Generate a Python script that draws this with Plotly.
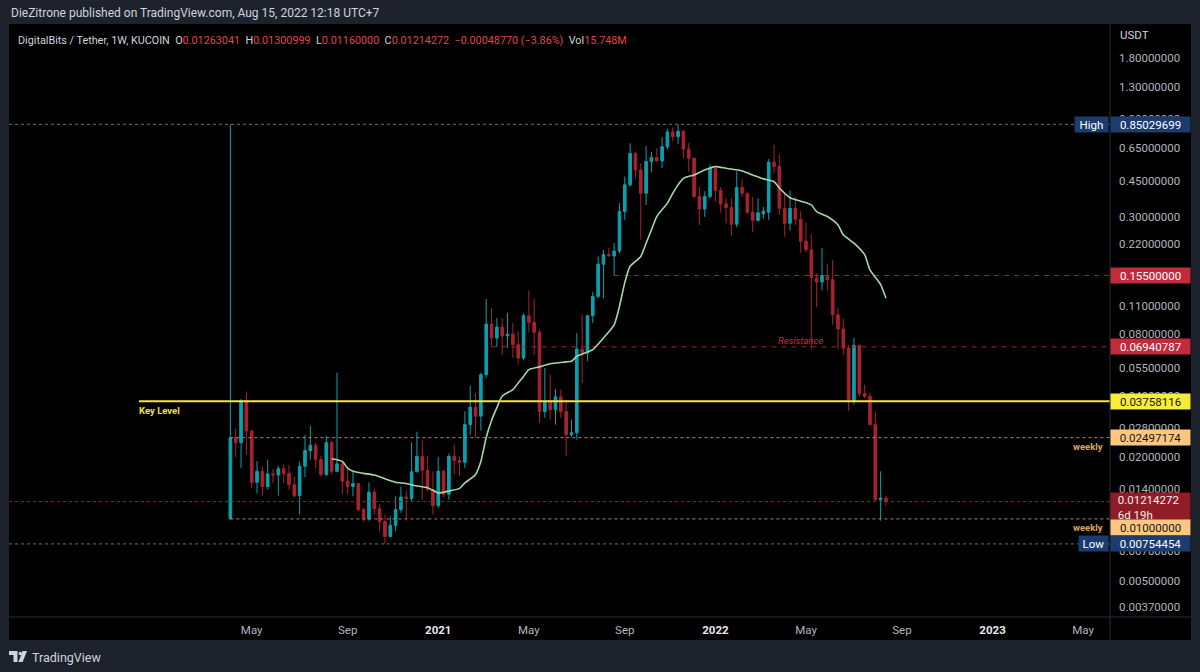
import math
import pandas as pd
import plotly.graph_objects as go

# ---------------- data ----------------
first_week = "2020-04-06"
n_weeks = 124

opens = [0.0100, 0.0250, 0.0236, 0.0378, 0.0269, 0.0151, 0.0171, 0.0144, 0.0166, 0.0164,
         0.0176, 0.0167, 0.0147, 0.0130, 0.0181, 0.0216, 0.0229, 0.0195, 0.0165, 0.0236,
         0.0171, 0.0186, 0.0153, 0.0144, 0.0149, 0.0111, 0.0100, 0.0135, 0.0112, 0.0097,
         0.0082, 0.0093, 0.0111, 0.0128, 0.0126, 0.0170, 0.0202, 0.0173, 0.0139, 0.0116,
         0.0171, 0.0132, 0.0202, 0.0193, 0.0189, 0.0289, 0.0352, 0.0318, 0.0507, 0.0897,
         0.0767, 0.0867, 0.0785, 0.0800, 0.0711, 0.0612, 0.0985, 0.0913, 0.0817, 0.0335,
         0.0375, 0.0342, 0.0395, 0.0335, 0.0258, 0.0264, 0.0677, 0.0647, 0.0985, 0.1225,
         0.176, 0.196, 0.193, 0.204, 0.318, 0.430, 0.613, 0.509, 0.391, 0.559,
         0.585, 0.563, 0.660, 0.780, 0.740, 0.785, 0.643, 0.580, 0.377, 0.328,
         0.377, 0.518, 0.403, 0.347, 0.333, 0.276, 0.417, 0.391, 0.316, 0.288,
         0.310, 0.316, 0.555, 0.530, 0.330, 0.279, 0.330, 0.292, 0.228, 0.207,
         0.151, 0.144, 0.153, 0.148, 0.0996, 0.0848, 0.0685, 0.0375, 0.0705, 0.0410,
         0.0398, 0.0289, 0.0124, 0.01263041]
highs = [0.85029699, 0.0277, 0.0386, 0.0420, 0.0272, 0.0192, 0.0180, 0.0195, 0.0176, 0.0182,
         0.0184, 0.0184, 0.0161, 0.0191, 0.0258, 0.0285, 0.0236, 0.0204, 0.0255, 0.0240,
         0.0519, 0.0191, 0.0176, 0.0170, 0.0150, 0.0113, 0.0151, 0.0140, 0.0118, 0.0105,
         0.0103, 0.0129, 0.0144, 0.0137, 0.0237, 0.0267, 0.0242, 0.0204, 0.0171, 0.0201,
         0.0174, 0.0209, 0.0231, 0.0202, 0.0336, 0.0448, 0.0412, 0.0519, 0.119, 0.1075,
         0.096, 0.096, 0.102, 0.0907, 0.0827, 0.101, 0.131, 0.119, 0.0842, 0.0547,
         0.0507, 0.0432, 0.0429, 0.0383, 0.0306, 0.0810, 0.0996, 0.0996, 0.129, 0.192,
         0.207, 0.211, 0.224, 0.350, 0.472, 0.687, 0.624, 0.548, 0.665, 0.624,
         0.650, 0.736, 0.810, 0.820, 0.85029699, 0.800, 0.690, 0.585, 0.420, 0.400,
         0.540, 0.520, 0.420, 0.370, 0.370, 0.500, 0.460, 0.392, 0.375, 0.370,
         0.336, 0.575, 0.674, 0.605, 0.390, 0.403, 0.375, 0.320, 0.282, 0.245,
         0.159, 0.211, 0.177, 0.184, 0.1075, 0.095, 0.0711, 0.0767, 0.0711, 0.0453,
         0.0415, 0.0335, 0.0171, 0.01300999]
lows = [0.0100, 0.0201, 0.0177, 0.0206, 0.0141, 0.0133, 0.0130, 0.0139, 0.0150, 0.0130,
        0.0150, 0.0139, 0.0127, 0.0105, 0.0160, 0.0195, 0.0177, 0.0161, 0.0162, 0.0165,
        0.0169, 0.0132, 0.0132, 0.0129, 0.0109, 0.0097, 0.0098, 0.0105, 0.0087, 0.00754454,
        0.0081, 0.0087, 0.0107, 0.0098, 0.0122, 0.0169, 0.0124, 0.0137, 0.0105, 0.0113,
        0.0127, 0.0124, 0.0165, 0.0162, 0.0177, 0.0258, 0.0250, 0.0270, 0.0490, 0.0693,
        0.0693, 0.0635, 0.0686, 0.0612, 0.0568, 0.0600, 0.0817, 0.0635, 0.0295, 0.0312,
        0.0306, 0.0289, 0.0312, 0.0202, 0.0252, 0.0244, 0.0462, 0.0590, 0.0907, 0.120,
        0.120, 0.192, 0.155, 0.199, 0.290, 0.422, 0.463, 0.232, 0.343, 0.495,
        0.559, 0.520, 0.640, 0.700, 0.680, 0.580, 0.500, 0.370, 0.274, 0.300,
        0.370, 0.357, 0.314, 0.279, 0.242, 0.267, 0.375, 0.310, 0.252, 0.285,
        0.294, 0.290, 0.490, 0.307, 0.240, 0.257, 0.274, 0.200, 0.200, 0.0677,
        0.1085, 0.131, 0.131, 0.089, 0.0677, 0.0635, 0.0338, 0.0362, 0.0395, 0.0390,
        0.0289, 0.0123, 0.0098, 0.01160000]
closes = [0.02497174, 0.0236, 0.0378, 0.0269, 0.0151, 0.0171, 0.0144, 0.0166, 0.0164, 0.0176,
          0.0167, 0.0147, 0.0130, 0.0181, 0.0216, 0.0229, 0.0195, 0.0165, 0.0236, 0.0171,
          0.0186, 0.0153, 0.0144, 0.0149, 0.0111, 0.0100, 0.0135, 0.0112, 0.0097, 0.0082,
          0.0093, 0.0111, 0.0128, 0.0126, 0.0170, 0.0202, 0.0173, 0.0139, 0.0116, 0.0171,
          0.0132, 0.0202, 0.0193, 0.0189, 0.0289, 0.0352, 0.0318, 0.0507, 0.0897, 0.0767,
          0.0867, 0.0785, 0.0800, 0.0711, 0.0612, 0.0985, 0.0913, 0.0817, 0.0335, 0.0375,
          0.0342, 0.0395, 0.0335, 0.0258, 0.0264, 0.0677, 0.0647, 0.0985, 0.1225, 0.176,
          0.196, 0.193, 0.204, 0.318, 0.430, 0.613, 0.509, 0.391, 0.559, 0.585,
          0.563, 0.660, 0.780, 0.740, 0.785, 0.643, 0.580, 0.377, 0.328, 0.377,
          0.518, 0.403, 0.347, 0.333, 0.276, 0.417, 0.391, 0.316, 0.288, 0.314,
          0.320, 0.555, 0.530, 0.330, 0.279, 0.330, 0.292, 0.228, 0.207, 0.151,
          0.144, 0.155, 0.148, 0.0996, 0.0848, 0.0685, 0.0375, 0.0705, 0.0410, 0.0398,
          0.0289, 0.0124, 0.01263041, 0.01214272]

# 20-week moving average (candle number, value)
ma_candle = [20, 22, 23, 24, 26, 28, 30, 32, 34, 36, 38, 39, 40, 42, 44, 45, 47, 48, 49, 50,
             51, 52, 54, 55, 56, 57, 59, 61, 64, 65, 66, 69, 71, 73, 74, 75, 76, 78, 79, 80,
             81, 83, 84, 85, 86, 88, 90, 92, 94, 97, 99, 101, 103, 104, 106, 108, 110, 111, 113, 115,
             116, 118, 120, 121, 123, 124]
ma_value = [0.0197, 0.0191, 0.0177, 0.0171, 0.0167, 0.0164, 0.0157, 0.0151, 0.0149, 0.0145,
            0.0142, 0.0138, 0.0134, 0.0137, 0.0141, 0.0150, 0.0165, 0.0191, 0.0250, 0.0303,
            0.0350, 0.0398, 0.0429, 0.0462, 0.0497, 0.0537, 0.0554, 0.0574, 0.0586, 0.0590,
            0.0624, 0.0672, 0.0767, 0.0890, 0.1095, 0.143, 0.172, 0.192, 0.223, 0.259,
            0.301, 0.350, 0.391, 0.430, 0.463, 0.481, 0.509, 0.528, 0.518, 0.503,
            0.481, 0.460, 0.446, 0.415, 0.372, 0.358, 0.343, 0.318, 0.301, 0.274,
            0.245, 0.223, 0.196, 0.165, 0.140, 0.120]

# horizontal levels
high_level = 0.85029699
low_level = 0.00754454
last_price = 0.01214272
key_level = 0.03758116
weekly_upper = 0.02497174
weekly_lower = 0.01000000
resistance = 0.06940787
upper_res = 0.15500000

# axis ticks (ticks fully hidden behind price labels in the reference are left out)
y_ticks = [1.8, 1.3, 0.9, 0.65, 0.45, 0.30, 0.22, 0.11, 0.08, 0.055, 0.04,
           0.028, 0.02, 0.014, 0.007, 0.005, 0.0037]
x_tick_dates = ["2020-05-04", "2020-09-07", "2021-01-04", "2021-05-03", "2021-09-06",
                "2022-01-03", "2022-05-02", "2022-09-05", "2023-01-02", "2023-05-01"]
x_tick_text = ["May", "Sep", "2021", "May", "Sep", "2022", "May", "Sep", "2023", "May"]
x_range = ["2019-06-20 06:00", "2023-06-05 06:00"]

# header values
hdr_open, hdr_high, hdr_low, hdr_close = "0.01263041", "0.01300999", "0.01160000", "0.01214272"
hdr_change = "−0.00048770 (−3.86%)"
hdr_vol = "15.748M"

# ---------------- style ----------------
W, H = 1200, 672
OUTER = "#1e222d"
TEAL = "#0c9fae"
RED = "#a8232f"
FONT = "Roboto"
TXT = "#d1d4dc"
AXT = "#b2b5be"
VALRED = "#e3434f"
LBL_BLUE = "#1c3c70"
LBL_RED = "#c32a3b"
LBL_DARKRED = "#901c27"
LBL_YEL = "#f7eb3b"
LBL_ORA = "#fdc77f"

PX_L, PX_R, PX_T, PX_B = 9, 1110, 24, 616.7

dates = pd.date_range(first_week, periods=n_weeks, freq="7D")
ma_dates = [dates[i - 1] for i in ma_candle]
x_end = x_range[1]

fig = go.Figure()

fig.add_trace(go.Candlestick(
    x=dates, open=opens, high=highs, low=lows, close=closes,
    increasing=dict(line=dict(color=TEAL, width=1), fillcolor=TEAL),
    decreasing=dict(line=dict(color=RED, width=1), fillcolor=RED),
    hoverinfo="skip", whiskerwidth=0,
))

def hline(x0, value, color, dash, width=1):
    fig.add_trace(go.Scatter(x=[x0, x_end], y=[value, value], mode="lines",
                             line=dict(color=color, width=width, dash=dash),
                             hoverinfo="skip"))

hline(x_range[0], high_level, "#6c707b", "dot")
hline(x_range[0], low_level, "#6c707b", "dot")
hline(x_range[0], last_price, "#8a2a30", "dot")
hline(dates[0], weekly_upper, "#b8864a", "dot")
hline(dates[0], weekly_lower, "#b8864a", "dot")
hline(dates[49], resistance, "#a3242f", "5px,5px")
hline(dates[72], upper_res, "#a3242f", "5px,5px")
hline("2019-12-08", key_level, "#f2e63a", "solid", 2)

fig.add_trace(go.Scatter(x=ma_dates, y=ma_value, mode="lines",
                         line=dict(color="#a5d6a7", width=1.6, shape="spline", smoothing=0.6),
                         hoverinfo="skip"))

# ---------------- layout ----------------
def px_x(p):
    return p / W

def px_y(p):
    return 1 - p / H

year_col = "#e6e8ee"
tt = [f"<b><span style='color:{year_col}'>{t}</span></b>" if t.isdigit() else t for t in x_tick_text]

fig.update_layout(
    width=W, height=H, margin=dict(l=0, r=0, t=0, b=0),
    paper_bgcolor=OUTER, plot_bgcolor="#000000", showlegend=False,
    font=dict(family=FONT, color=AXT, size=11.5),
    xaxis=dict(type="date", domain=[px_x(PX_L), px_x(PX_R)], range=x_range,
               rangeslider=dict(visible=False), showgrid=False, zeroline=False,
               showline=False, tickvals=x_tick_dates, ticktext=tt, ticks="",
               ticklabelstandoff=5, tickfont=dict(size=11.5, color=AXT, family=FONT),
               fixedrange=True),
    yaxis=dict(type="log", side="right", domain=[px_y(PX_B), px_y(PX_T)],
               range=[-2.4782, 0.4201], showgrid=False, zeroline=False, showline=False,
               tickvals=y_ticks, ticktext=[f"{v:.8f}" for v in y_ticks], ticks="",
               ticklabelstandoff=8, tickfont=dict(size=11.5, color=AXT, family=FONT),
               fixedrange=True),
)

shapes = []
# black chart panel incl. axes
shapes.append(dict(type="rect", xref="paper", yref="paper", x0=px_x(9), x1=px_x(1191),
                   y0=px_y(640), y1=px_y(24), fillcolor="#000000", line=dict(width=0),
                   layer="below"))
# separators
shapes.append(dict(type="line", xref="paper", yref="paper", x0=px_x(1110), x1=px_x(1110),
                   y0=px_y(640), y1=px_y(24), line=dict(color="#2a2e39", width=1), layer="above"))
shapes.append(dict(type="line", xref="paper", yref="paper", x0=px_x(9), x1=px_x(1191),
                   y0=px_y(617), y1=px_y(617), line=dict(color="#2a2e39", width=1), layer="above"))
# TradingView logo mark
shapes.append(dict(type="path", xref="paper", yref="paper",
                   path=(f"M {px_x(9)} {px_y(651)} L {px_x(17.5)} {px_y(651)} L {px_x(17.5)} {px_y(662)} "
                         f"L {px_x(13.5)} {px_y(662)} L {px_x(13.5)} {px_y(655)} L {px_x(9)} {px_y(655)} Z"),
                   fillcolor="#d1d4dc", line=dict(width=0)))
shapes.append(dict(type="circle", xref="paper", yref="paper", x0=px_x(18.6), x1=px_x(22.0),
                   y0=px_y(655.2), y1=px_y(651.8), fillcolor="#d1d4dc", line=dict(width=0)))
shapes.append(dict(type="path", xref="paper", yref="paper",
                   path=(f"M {px_x(22.6)} {px_y(651)} L {px_x(27)} {px_y(651)} L {px_x(22.6)} {px_y(662)} "
                         f"L {px_x(18.4)} {px_y(662)} Z"),
                   fillcolor="#d1d4dc", line=dict(width=0)))
fig.update_layout(shapes=shapes)

ann = []

def axis_label(value, text, bg, fg, yshift=0, height=13, align="center"):
    ann.append(dict(xref="paper", yref="y", x=px_x(1110), y=math.log10(value),
                    xanchor="left", yanchor="middle", yshift=yshift, text=text,
                    showarrow=False, bgcolor=bg, width=77, height=height, align=align,
                    borderpad=1, font=dict(family=FONT, size=11.5, color=fg)))

def side_tag(value, text, bg, fg, x_left, yshift=0):
    ann.append(dict(xref="paper", yref="y", x=px_x(1109), y=math.log10(value),
                    xanchor="right", yanchor="middle", yshift=yshift, text=text,
                    showarrow=False, bgcolor=bg, width=x_left, height=13, align="center",
                    borderpad=1, font=dict(family=FONT, size=11.5, color=fg)))

axis_label(high_level, "0.85029699", LBL_BLUE, "#ffffff")
side_tag(high_level, "High", LBL_BLUE, "#ffffff", 31)
axis_label(upper_res, "0.15500000", LBL_RED, "#ffffff")
axis_label(resistance, "0.06940787", LBL_RED, "#ffffff")
axis_label(key_level, "0.03758116", LBL_YEL, "#131722")
axis_label(weekly_upper, "0.02497174", LBL_ORA, "#131722")
nb = "\u00a0\u00a0"
axis_label(last_price, nb + "0.01214272<br>" + nb + "6d 19h", LBL_DARKRED, "#f0f0f0",
           yshift=-6, height=27, align="left")
axis_label(weekly_lower, "0.01000000", LBL_ORA, "#131722", yshift=-9)
axis_label(low_level, "0.00754454", LBL_BLUE, "#ffffff")
side_tag(low_level, "Low", LBL_BLUE, "#ffffff", 27)

# weekly tags
for lv, ys in ((weekly_upper, -9), (weekly_lower, -9)):
    ann.append(dict(xref="paper", yref="y", x=px_x(1105), y=math.log10(lv), yshift=ys,
                    xanchor="right", yanchor="middle", text="<b>weekly</b>", showarrow=False,
                    font=dict(family=FONT, size=9.5, color="#dca55c")))
# key level / resistance
ann.append(dict(xref="paper", yref="y", x=px_x(137), y=math.log10(key_level), yshift=-9,
                xanchor="left", yanchor="middle", text="<b>Key Level</b>", showarrow=False,
                font=dict(family=FONT, size=9.5, color="#ece03c")))
ann.append(dict(xref="paper", yref="y", x=px_x(776), y=math.log10(resistance), yshift=6,
                xanchor="left", yanchor="middle", text="<i>Resistance</i>", showarrow=False,
                font=dict(family=FONT, size=9.5, color="#d02a3e")))

# USDT
ann.append(dict(xref="paper", yref="paper", x=px_x(1118), y=px_y(35), xanchor="left",
                yanchor="middle", text="USDT", showarrow=False,
                font=dict(family=FONT, size=11.5, color=TXT)))

# header rows
ann.append(dict(xref="paper", yref="paper", x=px_x(9), y=px_y(13), xanchor="left",
                yanchor="middle",
                text="DieZitrone published on TradingView.com, Aug 15, 2022 12:18 UTC+7",
                showarrow=False, font=dict(family=FONT, size=12, color=TXT)))

def red(s):
    return f"<span style='color:{VALRED}'>{s}</span>"

sp = "\u00a0 "
hdr = ("DigitalBits / Tether, 1W, KUCOIN" + sp + "O" + red(hdr_open) + sp + "H" + red(hdr_high)
       + sp + "L" + red(hdr_low) + sp + "C" + red(hdr_close) + sp + red(hdr_change)
       + sp + "Vol" + red(hdr_vol))
ann.append(dict(xref="paper", yref="paper", x=px_x(16), y=px_y(40), xanchor="left",
                yanchor="middle", text=hdr, showarrow=False,
                font=dict(family=FONT, size=10.8, color=TXT)))

# footer
ann.append(dict(xref="paper", yref="paper", x=px_x(30), y=px_y(657), xanchor="left",
                yanchor="middle", text="TradingView", showarrow=False,
                font=dict(family=FONT, size=12.5, color=TXT)))

fig.update_layout(annotations=ann)

fig.write_html("out.html")
